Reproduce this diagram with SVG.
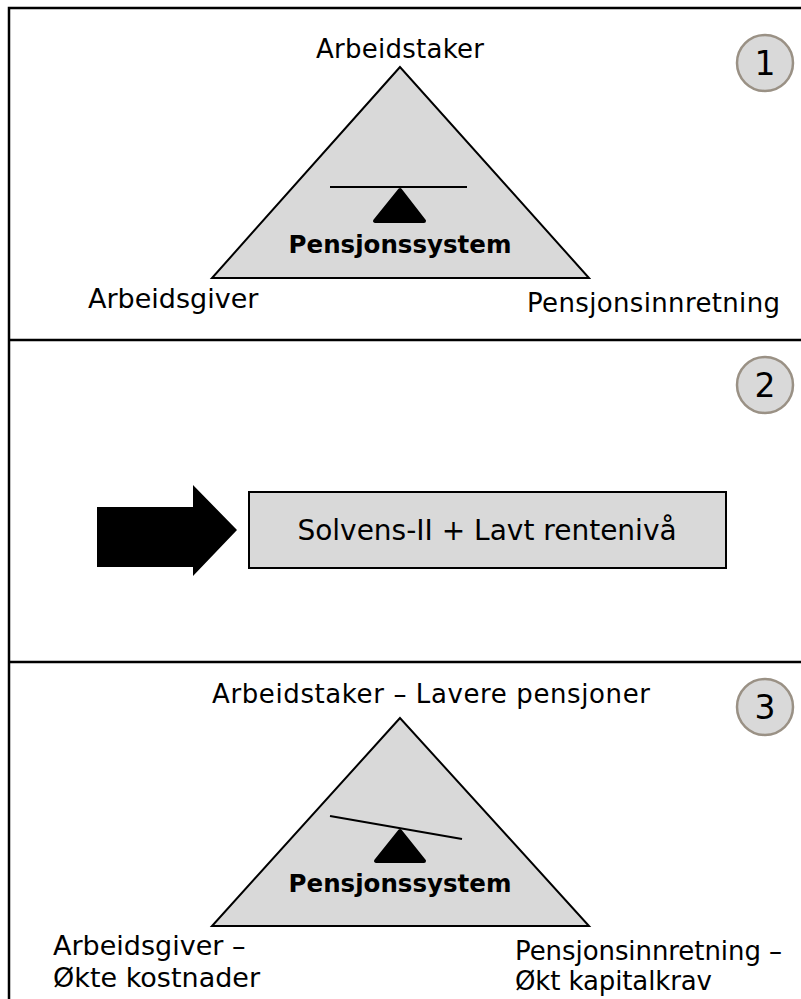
<svg xmlns="http://www.w3.org/2000/svg" width="801" height="999" viewBox="0 0 801 999">
<style>
.t{font-family:"DejaVu Sans",Verdana,sans-serif;fill:#000}
.lbl{font-size:26px}
.lbl2{font-size:27px}
.b{font-size:24.5px;font-weight:bold}
.num{font-size:33px}
.tri{fill:#d9d9d9;stroke:#000;stroke-width:2;stroke-linejoin:miter}
.circ{fill:#d9d9d9;stroke:#9a9185;stroke-width:2.5}
.frame{fill:none;stroke:#000;stroke-width:2.5}
.beam{stroke:#000;stroke-width:2;fill:none}
.fulcrum{fill:#000;stroke:#000;stroke-width:4;stroke-linejoin:round}
</style>
<rect width="801" height="999" fill="#fff"/>
<g id="frame">
<path class="frame" d="M9,1000 V8 H802"/>
<line class="frame" x1="9" y1="340" x2="802" y2="340"/>
<line class="frame" x1="9" y1="662" x2="802" y2="662"/>
</g>
<g id="panel1">
<polygon class="tri" points="400,67 212,278 589,278"/>
<line class="beam" x1="330" y1="187" x2="467" y2="187"/>
<polygon class="fulcrum" points="400,190 375,221 424,221"/>
<text class="t b" x="400" y="253" text-anchor="middle">Pensjonssystem</text>
<text class="t lbl" x="316" y="58" textLength="168">Arbeidstaker</text>
<text class="t lbl2" x="88" y="308">Arbeidsgiver</text>
<text class="t lbl" x="527" y="312" textLength="253">Pensjonsinnretning</text>
<g id="badge1"><circle class="circ" cx="765" cy="63" r="28"/><text class="t num" x="765" y="75" text-anchor="middle">1</text></g>
</g>
<g id="panel2">
<g id="badge2"><circle class="circ" cx="765" cy="385" r="28"/><text class="t num" x="765" y="397" text-anchor="middle">2</text></g>
<polygon id="arrow" points="97,507 193,507 193,485 237,530 193,576 193,567 97,567" fill="#000"/>
<g id="box"><rect x="249" y="492" width="477" height="76" fill="#d9d9d9" stroke="#000" stroke-width="2"/>
<text class="t" font-size="28" x="487" y="540" text-anchor="middle">Solvens-II + Lavt rentenivå</text></g>
</g>
<g id="panel3">
<g id="badge3"><circle class="circ" cx="765" cy="707" r="28"/><text class="t num" x="765" y="719" text-anchor="middle">3</text></g>
<text class="t lbl" x="212" y="703" textLength="438">Arbeidstaker – Lavere pensjoner</text>
<polygon class="tri" points="400,718 212,926 589,926"/>
<line class="beam" x1="330" y1="816" x2="462" y2="839"/>
<polygon class="fulcrum" points="400,831 376,861 424,861"/>
<text class="t b" x="400" y="892" text-anchor="middle">Pensjonssystem</text>
<text class="t lbl2" x="53" y="955">Arbeidsgiver –</text>
<text class="t lbl2" x="53" y="987">Økte kostnader</text>
<text class="t lbl" x="515" y="960" textLength="267">Pensjonsinnretning –</text>
<text class="t lbl" x="515" y="990" textLength="197">Økt kapitalkrav</text>
</g>
</svg>
